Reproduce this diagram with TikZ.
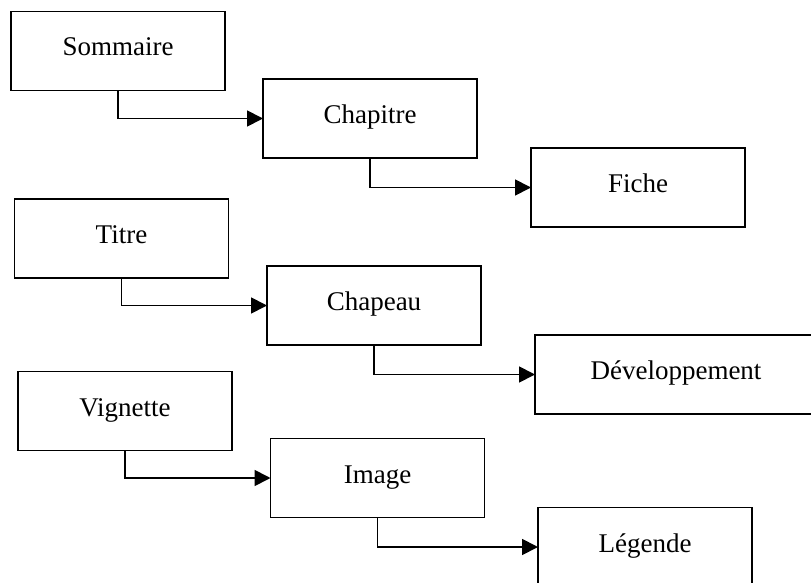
\documentclass[tikz,border=0pt]{standalone}
\usepackage{fontspec}
\setmainfont{Liberation Serif}
\usetikzlibrary{arrows.meta}

\begin{document}
\begin{tikzpicture}[x=1pt,y=-1pt,
	box/.style={draw,line width=1.8pt,rectangle,minimum width=214pt,minimum height=79pt,
		text height=18pt,text depth=8pt,font=\fontsize{27}{31}\selectfont,inner sep=0pt,outer sep=0pt},
	link/.style={line width=1.8pt,-{Triangle[length=16pt,width=16pt]}}]
	\useasboundingbox (0,0) rectangle (811,583);
	\node[box] (sommaire) at (118,51) {Sommaire};
	\node[box] (chapitre) at (370,118.5) {Chapitre};
	\node[box] (fiche) at (638,187.5) {Fiche};
	\node[box] (titre) at (121.5,238.5) {Titre};
	\node[box] (chapeau) at (374,305.5) {Chapeau};
	\node[box,minimum width=282pt] (developpement) at (676,374.5) {Développement};
	\node[box] (vignette) at (125,411) {Vignette};
	\node[box] (image) at (377.5,478) {Image};
	\node[box] (legende) at (645,547) {Légende};
	\draw[link] (sommaire.south) |- (chapitre.west);
	\draw[link] (chapitre.south) |- (fiche.west);
	\draw[link] (titre.south) |- (chapeau.west);
	\draw[link] (chapeau.south) |- (developpement.west);
	\draw[link] (vignette.south) |- (image.west);
	\draw[link] (image.south) |- (legende.west);
\end{tikzpicture}
\end{document}
